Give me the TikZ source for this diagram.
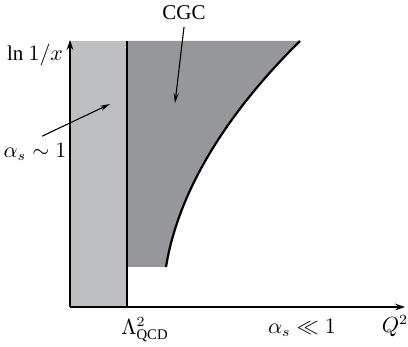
\documentclass[tikz,border=0pt]{standalone}
\usepackage{amsmath}
\usepackage{fontspec}
\setmainfont{Liberation Serif}
\usepackage{tikz}
\usetikzlibrary{arrows.meta,positioning}
\definecolor{softgray}{RGB}{190,191,193}
\definecolor{cgcgray}{RGB}{150,151,154}

\begin{document}
\begin{tikzpicture}[x=0.5pt,y=-0.5pt,font=\fontsize{10.5}{12}\selectfont,
    axis/.style={line width=0.6pt,-{Stealth[length=5pt,width=3.4pt]}},
    pointer/.style={line width=0.55pt,-{Stealth[length=5pt,width=2.6pt]}}]
        \useasboundingbox (0,0) rectangle (408,347);
        % strong coupling strip and saturation region
        \fill[softgray] (70,41) rectangle (127,307);
        \fill[cgcgray] (127,41) -- (300,41) .. controls (240,100) and (180,180) .. (166,267) -- (127,267) -- cycle;
        \draw[line width=1.1pt] (300,41) .. controls (240,100) and (180,180) .. (166,267);
        \draw[line width=1.3pt] (127,41) -- (127,307);
        % axes
        \coordinate (o) at (70,307);
        \draw[axis] (o) -- (70,40);
        \draw[axis] (o) -- (405,307);
        % labels
        \node (lnx) at (35,55) {ln $1/x$};
        \node (strong) at (35,152) {$\alpha_s \sim 1$};
        \node (cgc) at (184,13) {CGC};
        \node (lqcd) at (145,330) {$\Lambda^2_{\text{QCD}}$};
        \node (weak) at (302,328) {$\alpha_s \ll 1$};
        \node (q2) at (395,326) {$Q^2$};
        \coordinate (strip) at (110,104);
        \coordinate (sat) at (175,103);
        \draw[pointer] ([xshift=3.5pt]strong.north) -- (strip);
        \draw[pointer] (cgc.south) -- (sat);
      \end{tikzpicture}
\end{document}
